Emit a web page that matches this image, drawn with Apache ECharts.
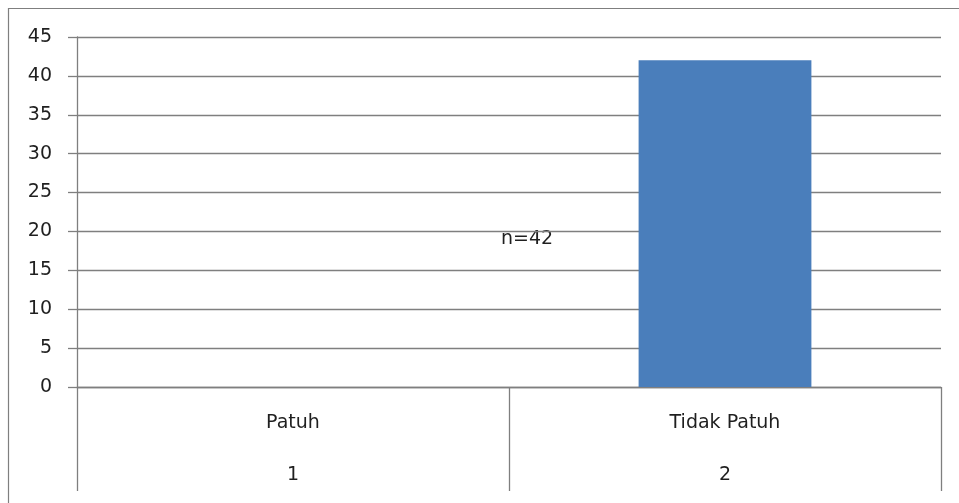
<!DOCTYPE html>
<html>
<head>
<meta charset="utf-8">
<script src="https://cdn.jsdelivr.net/npm/echarts@6/dist/echarts.min.js"></script>
<style>
  html, body { margin: 0; padding: 0; background: #ffffff; }
  #chart { width: 959px; height: 503px; }
</style>
</head>
<body>
<div id="chart"></div>
<script>
// Compliance categories and their counts
const categories = ['Patuh', 'Tidak Patuh'];
const categoryCodes = ['1', '2'];
const counts = [0, 42];
const sampleNote = 'n=42';

const lineGray = '#7f7f7f';
const textColor = '#1f1f1f';
const fontFamily = 'DejaVu Sans, Verdana, sans-serif';

const chart = echarts.init(document.getElementById('chart'));

chart.setOption({
  backgroundColor: '#ffffff',
  animation: false,
  grid: { left: 77, right: 18, top: 37, bottom: 116, containLabel: false },
  xAxis: [
    {
      type: 'category',
      data: categories,
      position: 'bottom',
      axisLine: { show: true, lineStyle: { color: lineGray, width: 1.3 } },
      axisTick: { show: true, alignWithLabel: false, length: 104, lineStyle: { color: lineGray, width: 1.3 } },
      axisLabel: { color: textColor, fontFamily: fontFamily, fontSize: 19, margin: 27 },
      splitLine: { show: false }
    },
    {
      type: 'category',
      data: categoryCodes,
      position: 'bottom',
      axisLine: { show: false },
      axisTick: { show: false },
      axisLabel: { color: textColor, fontFamily: fontFamily, fontSize: 19, margin: 79 },
      splitLine: { show: false }
    }
  ],
  yAxis: {
    type: 'value',
    min: 0,
    max: 45,
    interval: 5,
    axisLine: { show: true, lineStyle: { color: lineGray, width: 1.3 } },
    axisTick: { show: true, length: 9, lineStyle: { color: lineGray, width: 1.3 } },
    axisLabel: { color: textColor, fontFamily: fontFamily, fontSize: 19, margin: 25 },
    splitLine: { show: true, lineStyle: { color: lineGray, width: 1.3 } }
  },
  series: [
    {
      type: 'bar',
      xAxisIndex: 0,
      data: counts,
      barWidth: '40%',
      itemStyle: { color: '#4a7ebb' }
    }
  ],
  graphic: [
    // frame lines along the top and left edges
    { type: 'line', shape: { x1: 8, y1: 8.5, x2: 959, y2: 8.5 }, style: { stroke: lineGray, lineWidth: 1.2 } },
    { type: 'line', shape: { x1: 8.5, y1: 8, x2: 8.5, y2: 503 }, style: { stroke: lineGray, lineWidth: 1.2 } },
    {
      type: 'text',
      left: 501,
      top: 230,
      style: { text: sampleNote, fill: textColor, font: '19px ' + fontFamily }
    }
  ]
});
</script>
</body>
</html>
